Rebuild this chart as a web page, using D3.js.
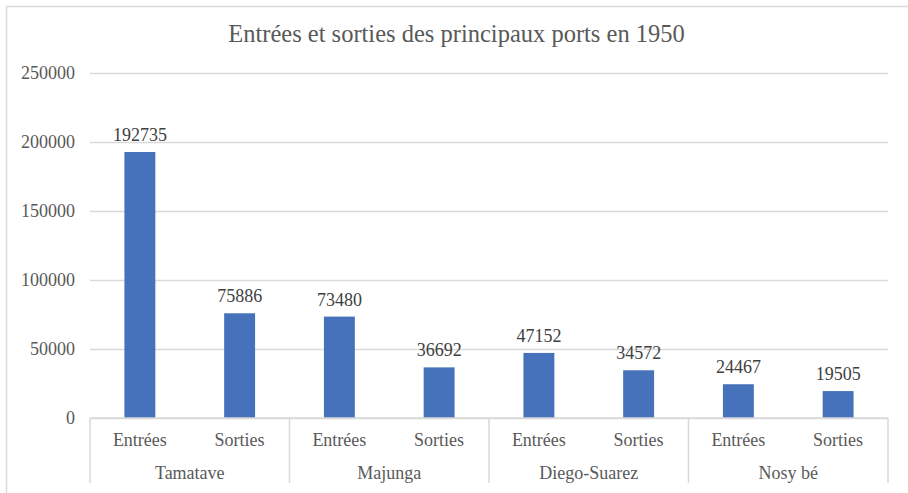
<!DOCTYPE html>
<html>
<head>
<meta charset="utf-8">
<script src="https://cdn.jsdelivr.net/npm/d3@7"></script>
<style>
  body { margin: 0; background: #fff; }
  svg text { font-family: "Liberation Serif", "Times New Roman", "DejaVu Serif", serif !important; }
</style>
</head>
<body>
<div id="chart"></div>
<script>
const width = 908, height = 493;
const serif = "'Liberation Serif', 'Times New Roman', serif";

const ports = ["Tamatave", "Majunga", "Diego-Suarez", "Nosy bé"];
const kinds = ["Entrées", "Sorties"];
const entrees = [192735, 73480, 47152, 24467];
const sorties = [75886, 36692, 34572, 19505];
const yTicks = [0, 50000, 100000, 150000, 200000, 250000];

const margin = { top: 73, left: 90 };
const plotRight = 888;

const svg = d3.select("#chart").append("svg")
    .attr("width", width)
    .attr("height", height)
    .attr("font-family", serif);

// chart frame
svg.append("rect")
    .attr("x", 6.5).attr("y", 6.5)
    .attr("width", width + 10).attr("height", height + 10)
    .attr("fill", "none")
    .attr("stroke", "#d9d9d9")
    .attr("stroke-width", 1.5);

svg.append("text")
    .attr("x", 456.5)
    .attr("y", 42)
    .attr("text-anchor", "middle")
    .attr("fill", "#595959")
    .attr("font-size", 24.5)
    .text("Entrées et sorties des principaux ports en 1950");

const y = d3.scaleLinear()
    .domain([0, 250000])
    .range([418, margin.top]);

const x0 = d3.scaleBand()
    .domain(ports)
    .range([margin.left, plotRight]);

const x1 = d3.scaleBand()
    .domain(kinds)
    .range([0, x0.bandwidth()])
    .paddingInner(0.69)
    .paddingOuter(0.345);

// gridlines + y labels
const yAxis = svg.append("g")
    .attr("transform", `translate(${margin.left},0)`)
    .call(d3.axisLeft(y).tickValues(yTicks).tickSize(-(plotRight - margin.left)).tickPadding(15).tickFormat(d3.format("d")))
    .attr("font-family", serif);
yAxis.select(".domain").remove();
yAxis.selectAll(".tick line").attr("stroke", "#d9d9d9").attr("stroke-width", 1.3);
yAxis.selectAll(".tick text")
    .attr("fill", "#595959")
    .attr("font-size", 18);

const rows = ports.map((p, i) => ({ port: p, values: [entrees[i], sorties[i]] }));

const groups = svg.append("g")
    .selectAll("g")
    .data(rows)
    .join("g")
    .attr("transform", d => `translate(${x0(d.port)},0)`);

groups.selectAll("rect")
    .data(d => d.values.map((v, j) => ({ kind: kinds[j], value: v })))
    .join("rect")
    .attr("x", d => x1(d.kind))
    .attr("width", x1.bandwidth())
    .attr("y", d => y(d.value))
    .attr("height", d => y(0) - y(d.value))
    .attr("fill", "#4671bb");

groups.selectAll("text.val")
    .data(d => d.values.map((v, j) => ({ kind: kinds[j], value: v })))
    .join("text")
    .attr("class", "val")
    .attr("x", d => x1(d.kind) + x1.bandwidth() / 2)
    .attr("y", d => y(d.value) - 11)
    .attr("text-anchor", "middle")
    .attr("fill", "#404040")
    .attr("font-size", 18)
    .text(d => d.value);

// category axis
const axis = svg.append("g").attr("stroke", "#d9d9d9").attr("stroke-width", 1.5);
axis.append("line")
    .attr("x1", margin.left).attr("x2", plotRight)
    .attr("y1", y(0)).attr("y2", y(0));
axis.selectAll("line.sep")
    .data(ports.map(p => x0(p)).concat([plotRight]))
    .join("line")
    .attr("class", "sep")
    .attr("x1", d => d).attr("x2", d => d)
    .attr("y1", y(0)).attr("y2", 483);

groups.selectAll("text.kind")
    .data(kinds)
    .join("text")
    .attr("class", "kind")
    .attr("x", d => x1(d) + x1.bandwidth() / 2)
    .attr("y", 446)
    .attr("text-anchor", "middle")
    .attr("fill", "#595959")
    .attr("font-size", 18)
    .text(d => d);

groups.append("text")
    .attr("x", x0.bandwidth() / 2)
    .attr("y", 479)
    .attr("text-anchor", "middle")
    .attr("fill", "#595959")
    .attr("font-size", 18)
    .text(d => d.port);
</script>
</body>
</html>
